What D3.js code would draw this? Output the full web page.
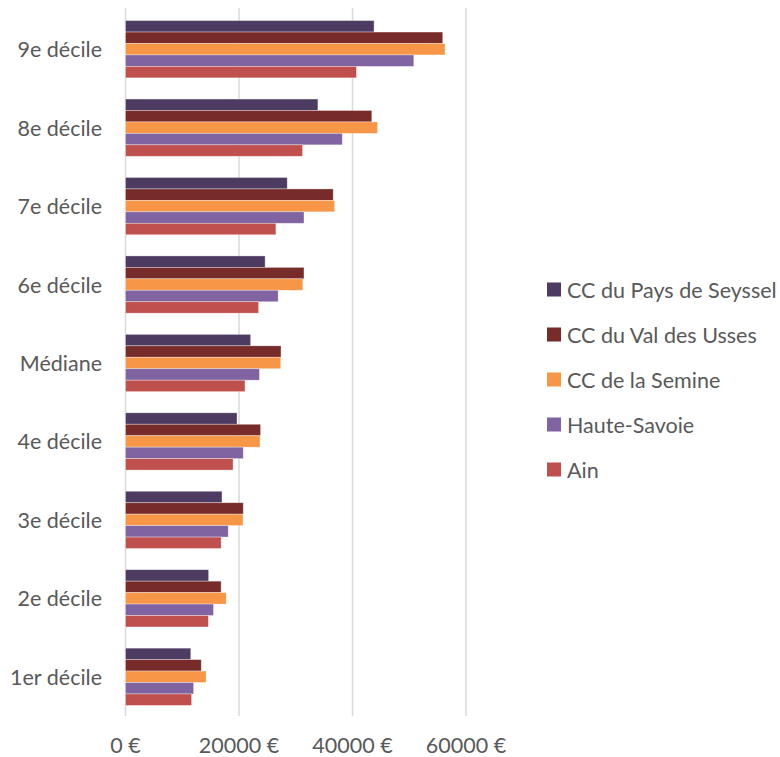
<!DOCTYPE html>
<html>
<head>
<meta charset="utf-8">
<script src="https://cdn.jsdelivr.net/npm/d3@7"></script>
<style>
  html, body { margin: 0; padding: 0; background: #ffffff; }
  svg text { font-family: Lato, "Open Sans", sans-serif; fill: #595959; }
</style>
</head>
<body>
<svg id="chart" width="780" height="757"></svg>
<script>
// Deciles of disposable income per territory (euros)
const categories = ["9e décile", "8e décile", "7e décile", "6e décile", "Médiane",
                    "4e décile", "3e décile", "2e décile", "1er décile"];
const seriesNames = ["CC du Pays de Seyssel", "CC du Val des Usses", "CC de la Semine",
                     "Haute-Savoie", "Ain"];
const seriesColors = ["#4d3b62", "#772c2a", "#f79646", "#8064a2", "#c0504d"];

const paysDeSeyssel = [43800, 33900, 28500, 24600, 22050, 19650, 17000, 14650, 11500];
const valDesUsses   = [55900, 43400, 36600, 31450, 27400, 23800, 20750, 16850, 13350];
const laSemine      = [56300, 44400, 36850, 31250, 27350, 23700, 20700, 17750, 14200];
const hauteSavoie   = [50800, 38200, 31450, 26900, 23600, 20750, 18100, 15500, 12000];
const ain           = [40700, 31200, 26500, 23450, 21050, 18950, 16850, 14600, 11650];

const xTicks = [0, 20000, 40000, 60000];

const seriesValues = [paysDeSeyssel, valDesUsses, laSemine, hauteSavoie, ain];

const svg = d3.select("#chart");
const plot = { left: 125.5, right: 466, top: 10, bottom: 716 };
const fontSize = 21.5;

const x = d3.scaleLinear().domain([0, 60000]).range([plot.left, plot.right]);
const y = d3.scaleBand().domain(categories).range([plot.top, plot.bottom]).paddingInner(0.27).paddingOuter(0.135);
const ySub = d3.scaleBand().domain(seriesNames).range([0, y.bandwidth()]);

// vertical gridlines
svg.append("g").selectAll("line").data(xTicks).join("line")
  .attr("x1", d => x(d)).attr("x2", d => x(d))
  .attr("y1", 8).attr("y2", 716)
  .attr("stroke", "#d9d9d9").attr("stroke-width", 1.5);

// bars
const groups = svg.append("g").selectAll("g").data(categories).join("g")
  .attr("transform", d => `translate(0,${y(d)})`);

groups.selectAll("rect")
  .data((c, ci) => seriesNames.map((s, si) => ({ s, si, v: seriesValues[si][ci] })))
  .join("rect")
  .attr("x", x(0))
  .attr("y", d => ySub(d.s))
  .attr("width", d => x(d.v) - x(0))
  .attr("height", ySub.bandwidth())
  .attr("fill", d => seriesColors[d.si])
  .attr("stroke", "#ffffff").attr("stroke-opacity", 0.45).attr("stroke-width", 0.75);

// category labels
svg.append("g").selectAll("text").data(categories).join("text")
  .attr("x", 102)
  .attr("y", d => y(d) + y.bandwidth() / 2)
  .attr("text-anchor", "end")
  .attr("dominant-baseline", "central")
  .attr("font-size", fontSize)
  .text(d => d);

// value axis labels
const fmt = d => `${d} €`;
svg.append("g").selectAll("text").data(xTicks).join("text")
  .attr("x", d => x(d))
  .attr("y", 745)
  .attr("text-anchor", "middle")
  .attr("dominant-baseline", "central")
  .attr("font-size", fontSize)
  .text(fmt);

// legend
const legend = svg.append("g").selectAll("g").data(seriesNames).join("g")
  .attr("transform", (d, i) => `translate(547,${289.5 + i * 45})`);
legend.append("rect")
  .attr("x", 0).attr("y", -7).attr("width", 14).attr("height", 14)
  .attr("fill", (d, i) => seriesColors[i]);
legend.append("text")
  .attr("x", 20).attr("y", 0)
  .attr("dominant-baseline", "central")
  .attr("font-size", fontSize)
  .text(d => d);
</script>
</body>
</html>
